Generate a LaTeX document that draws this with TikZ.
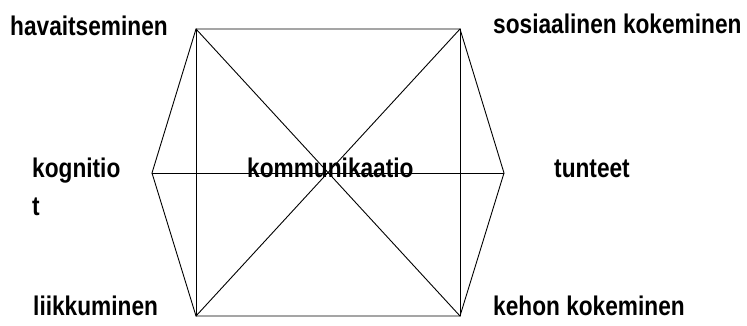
\documentclass[tikz,border=0pt]{standalone}
\usepackage{fontspec}
\newfontfamily\labelfont[FakeStretch=0.84]{Liberation Sans}

\begin{document}
\begin{tikzpicture}[
    x=1pt, y=1pt,
    line cap=round,
    line join=round,
    edge line/.style={line width=0.9pt, black},
    label style/.style={font=\labelfont\bfseries\fontsize{27}{38}\selectfont, inner sep=0pt, anchor=base west}
]

% --- 1. FRAME ---
\useasboundingbox (0,0) rectangle (747,325);

% --- 2. HEXAGON CORNERS ---
\coordinate (tl) at (196,296);
\coordinate (tr) at (460,296);
\coordinate (rt) at (504,152);
\coordinate (br) at (460,9);
\coordinate (bl) at (196,9);
\coordinate (lt) at (152,152);

% --- 3. OUTLINE ---
\draw[edge line] (tl) -- (tr) -- (rt) -- (br) -- (bl) -- (lt) -- cycle;

% --- 4. INNER LINES ---
\draw[edge line] (tl) -- (bl);
\draw[edge line] (tr) -- (br);
\draw[edge line] (tl) -- (br);
\draw[edge line] (tr) -- (bl);
\draw[edge line] (lt) -- (rt);

% --- 5. LABELS ---
\node[label style] (hav) at (10,290) {havaitseminen};
\node[label style] (sos) at (493,292) {sosiaalinen kokeminen};
\node[label style, align=left] (kog) at (32,110) {kognitio\\t};
\node[label style] (tun) at (554,148) {tunteet};
\node[label style] (lii) at (33,10) {liikkuminen};
\node[label style] (keh) at (493,10) {kehon kokeminen};
\node[label style] (kom) at (247,148) {kommunikaatio};

\end{tikzpicture}
\end{document}
